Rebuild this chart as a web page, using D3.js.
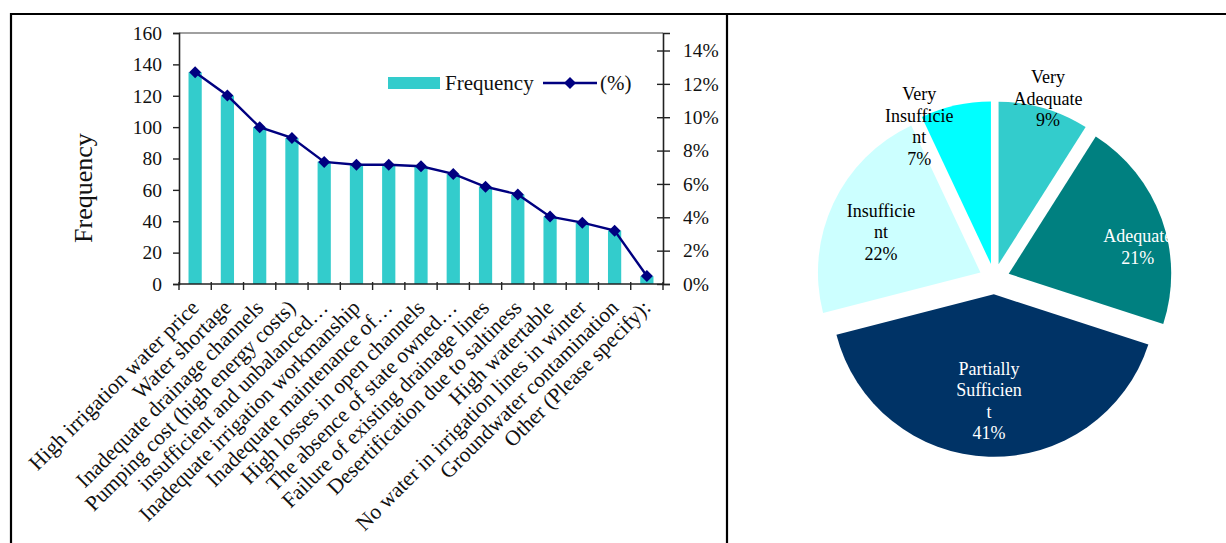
<!DOCTYPE html>
<html>
<head>
<meta charset="utf-8">
<script src="https://cdn.jsdelivr.net/npm/d3@7"></script>
<style>
  html, body { margin: 0; padding: 0; background: #fff; }
  svg { display: block; }
  text { font-family: "Liberation Serif", "Times New Roman", serif; }
</style>
</head>
<body>
<svg id="chart" width="1226" height="543"></svg>
<script>
// ---------------- DATA ----------------
const categories = [
  "High irrigation water price",
  "Water shortage",
  "Inadequate drainage channels",
  "Pumping cost (high energy costs)",
  "insufficient and unbalanced\u2026",
  "Inadequate irrigation workmanship",
  "Inadequate maintenance of\u2026",
  "High losses in open channels",
  "The absence of state owned\u2026",
  "Failure of existing drainage lines",
  "Desertification due to saltiness",
  "High watertable",
  "No water in irrigation lines in winter",
  "Groundwater contamination",
  "Other (Please specify):"
];
const frequency = [135, 120, 100, 93, 78, 76, 76, 75, 70, 62, 57, 43, 39, 34, 5];
const percent = [12.7, 11.3, 9.4, 8.76, 7.32, 7.15, 7.15, 7.06, 6.6, 5.83, 5.37, 4.04, 3.68, 3.2, 0.48];
const freqTicks = [0, 20, 40, 60, 80, 100, 120, 140, 160];
const pctTicks = [0, 2, 4, 6, 8, 10, 12, 14];
const legendLabels = ["Frequency", "(%)"];
const yTitle = "Frequency";

const pieCategories = ["Very Adequate", "Adequate", "Partially Sufficient", "Insufficient", "Very Insufficient"];
const pieValues = [9, 21, 41, 22, 7];
const pieLabelLines = [
  ["Very", "Adequate", "9%"],
  ["Adequate", "21%"],
  ["Partially", "Sufficien", "t", "41%"],
  ["Insufficie", "nt", "22%"],
  ["Very", "Insufficie", "nt", "7%"]
];

// ---------------- STYLE / LAYOUT ----------------
const barColor = "#33CCCC";
const lineColor = "#000080";
const pieColors = ["#33CCCC", "#008080", "#003366", "#CCFFFF", "#00FFFF"];
const pieTextColors = ["#000", "#fff", "#fff", "#000", "#000"];

const svg = d3.select("#chart");

// table borders
svg.append("line").attr("x1", 10).attr("x2", 1226).attr("y1", 14).attr("y2", 14)
  .attr("stroke", "#000").attr("stroke-width", 2.2);
svg.append("line").attr("x1", 11).attr("x2", 11).attr("y1", 13).attr("y2", 543)
  .attr("stroke", "#000").attr("stroke-width", 2.2);
svg.append("line").attr("x1", 727).attr("x2", 727).attr("y1", 13).attr("y2", 543)
  .attr("stroke", "#000").attr("stroke-width", 2.2);

// ---------------- LEFT CHART ----------------
const plot = { left: 179, right: 663, top: 33, bottom: 284 };

const x = d3.scaleBand().domain(categories).range([plot.left, plot.right]).padding(0);
const y = d3.scaleLinear().domain([0, 160]).range([plot.bottom, plot.top]);
const y2 = d3.scaleLinear().domain([0, 15.05]).range([plot.bottom, plot.top]);

// plot area top border (gray)
svg.append("line").attr("x1", plot.left).attr("x2", plot.right)
  .attr("y1", plot.top).attr("y2", plot.top)
  .attr("stroke", "#808080").attr("stroke-width", 1.5);

// bars
const barW = x.bandwidth() * 0.41;
svg.append("g").selectAll("rect").data(frequency).join("rect")
  .attr("x", (d, i) => x(categories[i]) + x.bandwidth() / 2 - barW / 2)
  .attr("y", d => y(d))
  .attr("width", barW)
  .attr("height", d => y(0) - y(d))
  .attr("fill", barColor);

// left axis
const axL = svg.append("g").attr("transform", `translate(${plot.left},0)`)
  .call(d3.axisLeft(y).tickValues(freqTicks).tickSize(6).tickPadding(11));
axL.select(".domain").attr("stroke", "#222").attr("stroke-width", 1.6);
axL.selectAll(".tick line").attr("stroke", "#222").attr("stroke-width", 1.4);
axL.selectAll("text").attr("font-size", 19.5).attr("fill", "#111")
  .style("font-family", "'Liberation Serif', serif");

// right axis
const axR = svg.append("g").attr("transform", `translate(${plot.right},0)`)
  .call(d3.axisRight(y2).tickValues(pctTicks).tickFormat(d => d + "%").tickSize(7).tickPadding(13));
axR.select(".domain").attr("stroke", "#222").attr("stroke-width", 1.6);
axR.selectAll(".tick line").attr("x1", -6).attr("stroke", "#222").attr("stroke-width", 1.4);
axR.selectAll("text").attr("font-size", 19.5).attr("fill", "#111")
  .style("font-family", "'Liberation Serif', serif");

// bottom axis line and boundary ticks
svg.append("line").attr("x1", plot.left).attr("x2", plot.right + 1)
  .attr("y1", plot.bottom).attr("y2", plot.bottom)
  .attr("stroke", "#222").attr("stroke-width", 1.6);
const bounds = d3.range(categories.length + 1).map(i => plot.left + i * x.step());
svg.append("g").selectAll("line").data(bounds).join("line")
  .attr("x1", d => d).attr("x2", d => d)
  .attr("y1", plot.bottom - 2).attr("y2", plot.bottom + 6)
  .attr("stroke", "#222").attr("stroke-width", 1.4);

// category labels (rotated)
svg.append("g").selectAll("text").data(categories).join("text")
  .attr("transform", d => `translate(${x(d) + x.bandwidth() / 2 + 5},${plot.bottom + 25}) rotate(-45)`)
  .attr("text-anchor", "end")
  .attr("font-size", 21.5)
  .attr("fill", "#111")
  .text(d => d);

// y title
svg.append("text")
  .attr("transform", `translate(92,188) rotate(-90)`)
  .attr("text-anchor", "middle")
  .attr("font-size", 26)
  .attr("fill", "#111")
  .text(yTitle);

// percentage line
const lineGen = d3.line()
  .x((d, i) => x(categories[i]) + x.bandwidth() / 2)
  .y(d => y2(d));
svg.append("path").datum(percent)
  .attr("d", lineGen)
  .attr("fill", "none")
  .attr("stroke", lineColor)
  .attr("stroke-width", 2.4);
const diamond = "M0,-6L6,0L0,6L-6,0Z";
svg.append("g").selectAll("path").data(percent).join("path")
  .attr("d", diamond)
  .attr("transform", (d, i) => `translate(${x(categories[i]) + x.bandwidth() / 2},${y2(d)})`)
  .attr("fill", lineColor);

// legend
const lg = svg.append("g");
lg.append("rect").attr("x", 388).attr("y", 77).attr("width", 52).attr("height", 12).attr("fill", barColor);
lg.append("text").attr("x", 445).attr("y", 90).attr("font-size", 21).attr("fill", "#111").text(legendLabels[0]);
lg.append("line").attr("x1", 543).attr("x2", 597).attr("y1", 83).attr("y2", 83)
  .attr("stroke", lineColor).attr("stroke-width", 2.4);
lg.append("path").attr("d", diamond).attr("transform", "translate(570,83)").attr("fill", lineColor);
lg.append("text").attr("x", 600).attr("y", 90).attr("font-size", 21).attr("fill", "#111").text(legendLabels[1]);

// ---------------- PIE ----------------
const pc = { x: 994.3, y: 279 };
const R = 162.5;
const explode = 15.3;
const pie = d3.pie().sort(null).value(d => d);
const arcs = pie(pieValues);
const arc = d3.arc().innerRadius(0).outerRadius(R);

const pg = svg.append("g").attr("transform", `translate(${pc.x},${pc.y})`);
pg.selectAll("path").data(arcs).join("path")
  .attr("d", arc)
  .attr("fill", (d, i) => pieColors[i])
  .attr("transform", d => {
    const m = (d.startAngle + d.endAngle) / 2;
    return `translate(${Math.sin(m) * explode},${-Math.cos(m) * explode})`;
  });

// label placement (radius, angle shift in degrees)
const labelPlace = [
  { r: 188, da: 0.4 },
  { r: 147, da: 7.3 },
  { r: 122, da: 0.7 },
  { r: 122.5, da: -2.8 },
  { r: 170, da: -13.6 }
];
const clip = svg.append("defs").append("clipPath").attr("id", "pieclip");
clip.append("rect").attr("x", 728).attr("y", 15).attr("width", 1169.5 - 728).attr("height", 528);

const lblG = svg.append("g").attr("clip-path", "url(#pieclip)");
arcs.forEach((d, i) => {
  const m = (d.startAngle + d.endAngle) / 2 + labelPlace[i].da * Math.PI / 180;
  const cx = pc.x + Math.sin(m) * labelPlace[i].r;
  const cy = pc.y - Math.cos(m) * labelPlace[i].r;
  const lines = pieLabelLines[i];
  const n = lines.length;
  const t = lblG.append("text")
    .attr("text-anchor", "middle")
    .attr("font-size", 18)
    .attr("fill", pieTextColors[i]);
  lines.forEach((ln, k) => {
    t.append("tspan").attr("x", cx).attr("y", cy + (k - (n - 1) / 2) * 21.5 + 6).text(ln);
  });
});
</script>
</body>
</html>
